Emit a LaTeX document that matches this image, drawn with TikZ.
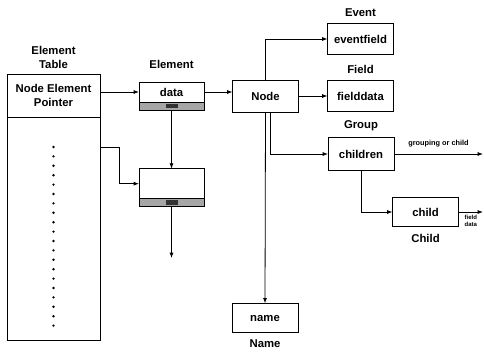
\documentclass[tikz,border=0pt]{standalone}
\usepackage{fontspec}
\setmainfont{Liberation Sans}
\usetikzlibrary{positioning,arrows.meta}
\tikzset{
  box/.style={draw=black, line width=0.6pt, outer sep=0pt, minimum width=49.5pt,
    minimum height=23pt, inner sep=1pt, align=center,
    font=\fontsize{8.5pt}{10pt}\selectfont\bfseries},
  strip/.style={draw=black, line width=0.6pt, outer sep=0pt, fill=black!35,
    minimum width=48.75pt, minimum height=6pt, inner sep=0pt},
  darkpatch/.style={fill=black!80, minimum width=9pt, minimum height=3.5pt, inner sep=0pt},
  lab/.style={font=\fontsize{8.5pt}{10.5pt}\selectfont\bfseries, align=center, inner sep=1pt},
  slab/.style={font=\fontsize{5.5pt}{6pt}\selectfont\bfseries, align=center, inner sep=1pt},
  tlab/.style={font=\fontsize{4.5pt}{5.5pt}\selectfont\bfseries, align=center, inner sep=1pt},
  arr/.style={-{Latex[length=4pt,width=3pt]}, line width=0.6pt},
}
\begin{document}
\begin{tikzpicture}[x=0.75pt, y=-0.75pt]
  \useasboundingbox (0,0) rectangle (484,351);
  % element table
  \node[box, minimum width=69.75pt, minimum height=32.25pt] (hdr) at (53.5,95.5) {Node Element\\Pointer};
  \node[box, minimum width=69.75pt, minimum height=167.25pt, below=0pt of hdr] (tbl) {};
  \node[lab, above=3pt of hdr] (tbllab) {Element\\Table};
  \foreach \k in {0,...,19}
    \fill ([yshift=-22.5pt-7.05pt*\k]tbl.north) circle (1pt);
  % elements
  \node[box, minimum width=48.75pt, minimum height=15pt] (data) at (171.5,92) {data};
  \node[strip, below=0pt of data] (datastrip) {};
  \node[darkpatch] (datapatch) at (datastrip) {};
  \node[lab, above=8.5pt of data] (ellab) {Element};
  \node[box, minimum width=48.75pt, minimum height=22.5pt, below=44pt of datastrip] (el2) {};
  \node[strip, below=0pt of el2] (el2strip) {};
  \node[darkpatch] (el2patch) at (el2strip) {};
  % node and its parts
  \node[box, minimum height=24pt] (nd) at (265.5,96) {Node};
  \node[box] (ev) at (360.5,39) {eventfield};
  \node[box] (fd) at (360.5,96) {fielddata};
  \node[box, minimum height=25pt] (ch) at (361,154) {children};
  \node[box, minimum height=22pt] (cd) at (425.5,212) {child};
  \node[box, minimum height=22pt] (nm) at (265,318) {name};
  \node[lab, above=4pt of ev] (evlab) {Event};
  \node[lab, above=4pt of fd] (fdlab) {Field};
  \node[lab, above=4pt of ch] (chlab) {Group};
  \node[lab, below=4.5pt of cd] (cdlab) {Child};
  \node[lab, below=4pt of nm] (nmlab) {Name};
  \coordinate (el2end) at (171.5,258);
  \coordinate (grpend) at (483,154);
  \coordinate (cdend) at (483,212);
  % connectors
  \draw[arr] (hdr.east |- data.west) -- (data.west);
  \draw[arr] ([yshift=-22.5pt]tbl.north east) -- ++(19,0) |- (el2.west);
  \draw[arr] (datastrip.south) -- (el2.north);
  \draw[arr] (el2strip.south) -- (el2end);
  \draw[arr] (data.east) -- (data.east -| nd.west);
  \draw[arr] (nd.north) |- (ev.west);
  \draw[arr] (nd.east) -- (fd.west);
  \draw[arr] ([xshift=3.5pt]nd.south) |- (ch.west);
  \draw[arr] (nd.south) -- (nm.north);
  \draw[arr] (ch.east) -- node[slab, above=4pt] (grplab) {grouping or child} (grpend);
  \draw[arr] (ch.south) |- (cd.west);
  \draw[arr] (cd.east) -- node[tlab, below=1pt] (fdatalab) {field\\data} (cdend);
\end{tikzpicture}
\end{document}
